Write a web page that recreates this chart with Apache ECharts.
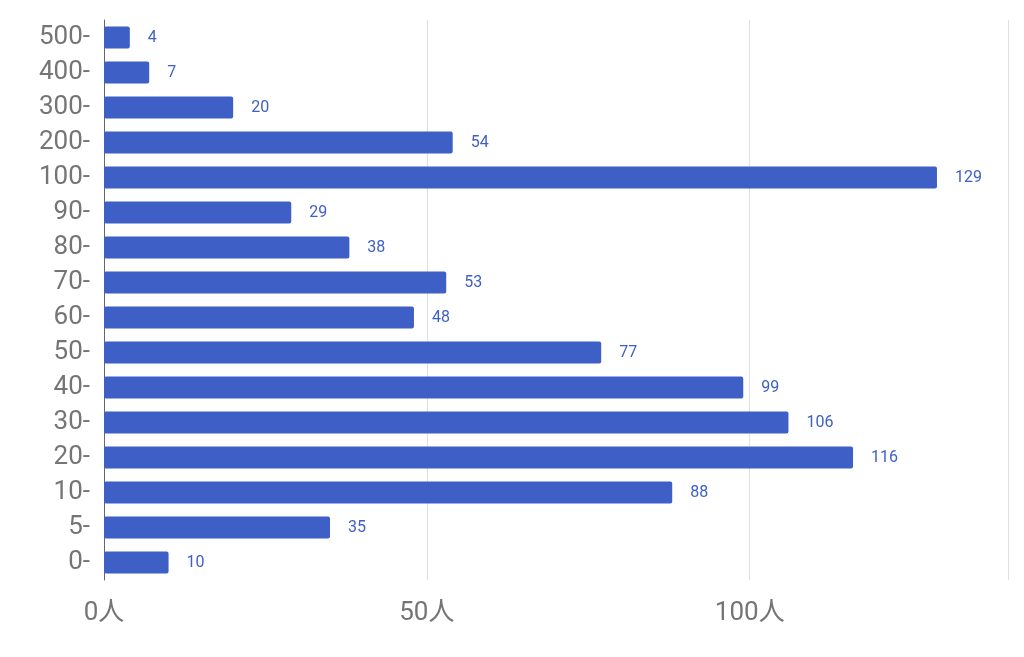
<!DOCTYPE html>
<html><head><meta charset="utf-8">
<script src="https://cdn.jsdelivr.net/npm/echarts@6/dist/echarts.min.js"></script>
<style>html,body{margin:0;background:#fff}#c{width:1024px;height:657px}</style>
</head><body><div id="c"></div>
<script>
var categories = ['0', '5', '10', '20', '30', '40', '50', '60', '70', '80', '90', '100', '200', '300', '400', '500'];
var counts = [10, 35, 88, 116, 106, 99, 77, 48, 53, 38, 29, 129, 54, 20, 7, 4];

var chart = echarts.init(document.getElementById('c'));
chart.setOption({
    animation: false,
    grid: {left: 104, right: 16, top: 20, bottom: 77},
    xAxis: {
        type: 'value', min: 0, max: 140, interval: 50,
        axisLine: {show: false}, axisTick: {show: false},
        splitLine: {lineStyle: {color: '#e0e0e0'}},
        axisLabel: {
            formatter: function (v) { return v + '人'; },
            color: '#757575', fontSize: 26, fontFamily: 'Roboto, "Noto Sans CJK JP"',
            margin: 20, showMaxLabel: false
        }
    },
    yAxis: {
        type: 'category', data: categories,
        axisLine: {lineStyle: {color: '#666'}}, axisTick: {show: false},
        axisLabel: {
            formatter: function (v) { return v + '-'; },
            color: '#757575', fontSize: 26, fontFamily: 'Roboto', margin: 14
        }
    },
    series: [{
        type: 'bar', data: counts, barWidth: 22,
        itemStyle: {color: '#3d5fc6', borderRadius: 2},
        label: {show: true, position: 'right', distance: 18, color: '#3d5fc6', fontSize: 16, fontFamily: 'Roboto'}
    }]
});
</script></body></html>
